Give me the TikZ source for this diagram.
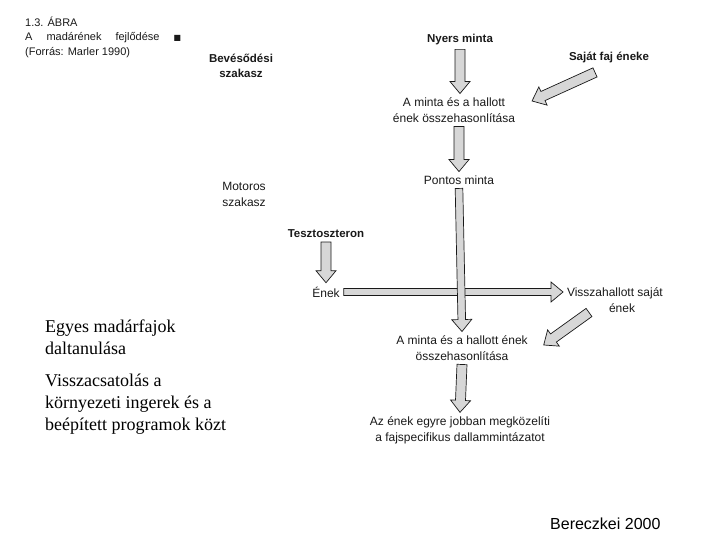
\documentclass[tikz,border=0pt]{standalone}
\usepackage{fontspec}
\setmainfont{Liberation Serif}
\setsansfont{Liberation Sans}
\newfontfamily\symfont{DejaVu Sans}
\usetikzlibrary{positioning, calc}
\definecolor{ink}{RGB}{25, 25, 25}
\definecolor{shade}{RGB}{215, 215, 215}

\begin{document}
\begin{tikzpicture}[x=1pt, y=-1pt,
            lbl/.style={font=\sffamily\fontsize{12}{16}\selectfont, text=ink, inner sep=1pt, outer sep=3pt, align=center},
            lblb/.style={lbl, font=\sffamily\bfseries\fontsize{11.5}{15}\selectfont},
            capt/.style={font=\sffamily\fontsize{11}{14}\selectfont, text=ink, inner sep=0pt, anchor=west},
            slide/.style={font=\rmfamily\fontsize{18}{22}\selectfont, inner sep=0pt, anchor=north west, align=left},
            blockarrow/.style={draw=ink, fill=shade, line width=0.7pt, line join=miter, to path={
                ($(\tikztostart)!#1!90:(\tikztotarget)$)
                -- ($(\tikztotarget)!12pt!(\tikztostart)!#1!90:(\tikztotarget)$)
                -- ($(\tikztotarget)!12pt!(\tikztostart)!10pt!90:(\tikztotarget)$)
                -- (\tikztotarget)
                -- ($(\tikztotarget)!12pt!(\tikztostart)!10pt!-90:(\tikztotarget)$)
                -- ($(\tikztotarget)!12pt!(\tikztostart)!#1!-90:(\tikztotarget)$)
                -- ($(\tikztostart)!#1!-90:(\tikztotarget)$) -- cycle}},
            blockarrow/.default=5pt
        ]
            \useasboundingbox (0,0) rectangle (720,540);

            % caption of the scanned figure
            \node[capt] (abra) at (25,22) {1.3. ÁBRA};
            \node[capt] (title) at (25,38) {A\hspace{14pt}madárének\hspace{14pt}fejlődése\hspace{14pt}{\symfont\fontsize{8}{10}\selectfont ■}};
            \node[capt] (src) at (25,53) {(Forrás: Marler 1990)};

            % phases
            \node[lblb] (bev) at (241,66) {Bevésődési\\szakasz};
            \node[lbl] (mot) at (244,194) {Motoros\\szakasz};

            % main column
            \node[lblb] (nyers) at (460,40) {Nyers minta};
            \node[lbl] (cmp1) at (454,110) {A minta és a hallott\\ének összehasonlítása};
            \node[lbl] (pontos) at (459,180) {Pontos minta};
            \node[lbl] (cmp2) at (462,348) {A minta és a hallott ének\\összehasonlítása};
            \node[lbl] (final) at (460,430) {Az ének egyre jobban megközelíti\\a fajspecifikus dallammintázatot};

            \node[lblb] (sajat) at (609,57) {Saját faj éneke};
            \node[lblb] (teszt) at (326,234) {Tesztoszteron};
            \node[lbl] (enek) at (326,292) {Ének};
            \node[lbl, anchor=west, align=left] (vissza) at (563,300) {Visszahallott saját\\\hspace*{42pt}ének};

            % ends of the arrows that must stay straight or slanted
            \coordinate (cmp1top) at (nyers.south |- cmp1.north);
            \coordinate (cmp1bot) at (cmp1.south -| pontos.north);
            \coordinate (visszain) at (enek.east -| vissza.west);
            \coordinate (sajfrom) at ($(sajat.south)+(-14,6)$);
            \coordinate (cmp1in) at ($(cmp1.east)+(13,-9)$);
            \coordinate (visszafrom) at ($(vissza.south west)+(26,-4)$);
            \coordinate (cmp2in) at ($(cmp2.east)+(12,-3)$);

            % block arrows
            \draw[blockarrow] (nyers.south) to (cmp1top);
            \draw[blockarrow] (cmp1bot) to (pontos.north);
            \draw[blockarrow] (teszt.south) to (enek.north);
            \draw[blockarrow=3.5pt] (enek.east) to (visszain);
            \draw[blockarrow=3.8pt] (pontos.south) to (cmp2.north);
            \draw[blockarrow] (cmp2.south) to (final.north);
            \draw[blockarrow] (sajfrom) to (cmp1in);
            \draw[blockarrow] (visszafrom) to (cmp2in);

            % slide text
            \node[slide] (daltan) at (45,320) {Egyes madárfajok\\daltanulása};
            \node[slide] (vissza2) at (45,374) {Visszacsatolás a\\környezeti ingerek és a\\beépített programok közt};
            \node[font=\sffamily\fontsize{16}{19}\selectfont, anchor=west, inner sep=0pt] (ref) at (550,524) {Bereczkei 2000};
        \end{tikzpicture}
\end{document}
